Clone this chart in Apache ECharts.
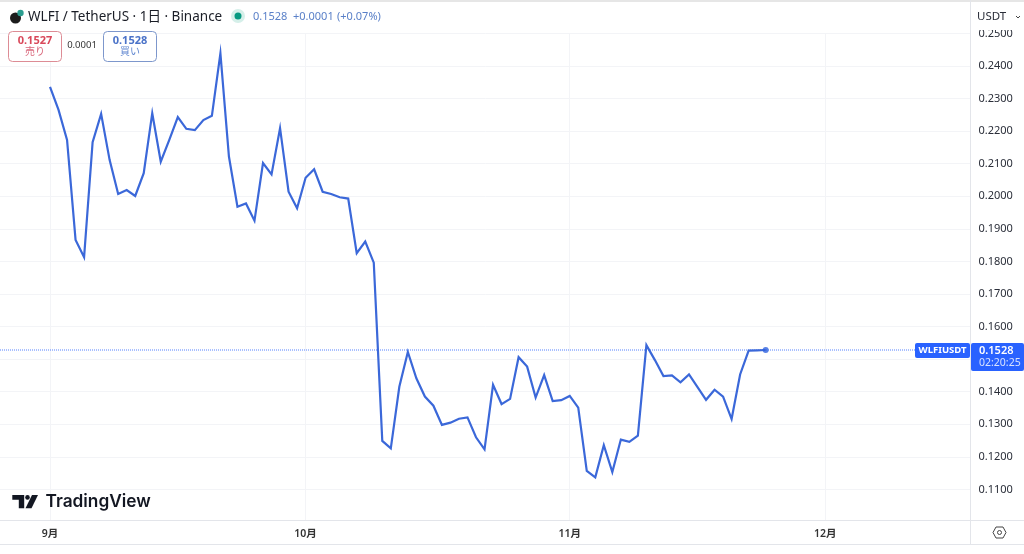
<!DOCTYPE html>
<html><head><meta charset="utf-8">
<style>html,body{margin:0;padding:0;background:#fff}#c{width:1024px;height:554px}</style>
<script src="https://cdn.jsdelivr.net/npm/echarts@6/dist/echarts.min.js"></script>
</head><body><div id="c"></div>
<script>
// day offset from 1 Sep, one close per day
const closes = [0.2336,0.2265,0.2173,0.1866,0.1813,0.2166,0.2253,0.2111,0.2007,0.2019,
0.2001,0.2071,0.2255,0.2106,0.2173,0.2243,0.2207,0.2203,0.2234,0.2247,
0.2439,0.2122,0.1968,0.1978,0.1925,0.2102,0.2067,0.2209,0.2014,0.1963,
0.2057,0.2083,0.2014,0.2007,0.1997,0.1993,0.1825,0.1861,0.1796,0.1249,
0.1226,0.1415,0.1522,0.1441,0.1385,0.1357,0.1298,0.1305,0.1317,0.1321,
0.1260,0.1223,0.1421,0.1362,0.1378,0.1506,0.1477,0.1382,0.1451,0.1371,
0.1374,0.1387,0.1351,0.1157,0.1137,0.1236,0.1153,0.1253,0.1246,0.1265,
0.1543,0.1497,0.1448,0.1450,0.1429,0.1453,0.1414,0.1375,0.1406,0.1385,
0.1316,0.1453,0.1526,0.1527,0.1528];
const monthDays = [0,30,61,91];
const monthLabels = ['9月','10月','11月','12月'];
const priceTicks = [0.11,0.12,0.13,0.14,0.15,0.16,0.17,0.18,0.19,0.20,0.21,0.22,0.23,0.24,0.25];
const lastPrice = 0.1528;
const xRange = [-5.87,108.04];
const yRange = [0.10045,0.25013];

const UI = '"Noto Sans","Noto Sans CJK JP",sans-serif';
const series = closes.map((v,i)=>[i,v]);
const lastIdx = closes.length-1;
const txt=(x,y,t,o)=>({type:'text',x,y,z:50,silent:true,style:Object.assign({text:t,fontFamily:UI,fontSize:11,fill:'#131722',verticalAlign:'middle',align:'left'},o||{})});
const rect=(x,y,w,h,o,r)=>({type:'rect',z:40,silent:true,shape:{x,y,width:w,height:h,r:r||0},style:o});

const chart = echarts.init(document.getElementById('c'),null,{renderer:'canvas'});
chart.setOption({
 animation:false,backgroundColor:'#fff',
 grid:{left:0,right:53.5,top:33,bottom:33.5},
 xAxis:{type:'value',min:xRange[0],max:xRange[1],
  axisLine:{show:false},
  axisTick:{show:false,customValues:monthDays},
  splitLine:{show:true,lineStyle:{color:'#f3f4f7',width:1}},
  axisLabel:{customValues:monthDays,margin:8,fontSize:10.5,fontWeight:600,color:'#333',fontFamily:UI,
   formatter:v=>monthLabels[monthDays.indexOf(Math.round(v))]||''}},
 yAxis:{type:'value',position:'right',min:yRange[0],max:yRange[1],
  axisLine:{show:false},
  axisTick:{show:false,customValues:priceTicks},
  splitLine:{show:true,lineStyle:{color:'#f3f4f7',width:1}},
  axisLabel:{customValues:priceTicks,margin:8,fontSize:11,color:'#2a2e39',fontFamily:UI,
   formatter:v=>v.toFixed(4)}},
 series:[
  {type:'line',data:[[xRange[0],lastPrice],[xRange[1],lastPrice]],showSymbol:false,silent:true,z:1,
   lineStyle:{color:'#2962ff',type:[1,1],width:1,opacity:.8}},
  {type:'line',data:series,showSymbol:false,smooth:false,z:3,
   lineStyle:{color:'#3b68d9',width:2.2,join:'miter'}},
  {type:'scatter',data:[series[lastIdx]],symbol:'circle',symbolSize:6,z:4,itemStyle:{color:'#2f62de'}}
 ],
 graphic:{elements:[
  rect(0,0,1024,2,{fill:'#e6e6e6'}),
  rect(970,0,1,544,{fill:'#e3e5ea'}),
  rect(0,520,1024,1,{fill:'#e3e5ea'}),
  rect(0,544,1024,1,{fill:'#e3e5ea'}),
  rect(973,6,51,24,{fill:'#fff'}),
  // header
  {type:'circle',z:50,silent:true,shape:{cx:15.5,cy:18,r:5.5},style:{fill:'#1c1c1c'}},
  {type:'circle',z:51,silent:true,shape:{cx:20.5,cy:13,r:3.2},style:{fill:'#2a9d8f'}},
  txt(28,17,'WLFI / TetherUS · 1日 · Binance',{fontSize:13.5,fill:'#1a1d26'}),
  {type:'circle',z:50,silent:true,shape:{cx:238,cy:16,r:7},style:{fill:'#d5efe9'}},
  {type:'circle',z:51,silent:true,shape:{cx:238,cy:16,r:3.5},style:{fill:'#089981'}},
  txt(253,16.5,'0.1528',{fill:'#5a80c8',fontSize:11}),
  txt(293,16.5,'+0.0001',{fill:'#5a80c8',fontSize:11}),
  txt(337,16.5,'(+0.07%)',{fill:'#5a80c8',fontSize:11}),
  // buy / sell
  rect(8.5,31.5,53,30,{fill:'#fff',stroke:'#dd8c95',lineWidth:1},4),
  txt(35,41,'0.1527',{align:'center',fontWeight:'bold',fontSize:11,fill:'#d9485a'}),
  txt(35,52.5,'売り',{align:'center',fontSize:10,fill:'#d9667a'}),
  txt(82,45.5,'0.0001',{align:'center',fontSize:9.5,fill:'#333'}),
  rect(103.5,31.5,53,30,{fill:'#fff',stroke:'#7d97cc',lineWidth:1},4),
  txt(130,41,'0.1528',{align:'center',fontWeight:'bold',fontSize:11,fill:'#4a72c8'}),
  txt(130,52.5,'買い',{align:'center',fontSize:10,fill:'#5f86d0'}),
  // currency selector
  txt(977,17,'USDT',{fontSize:11.5,fill:'#2a2e39'}),
  {type:'polyline',z:50,silent:true,shape:{points:[[1016,16],[1018,18],[1020,16]]},style:{stroke:'#444',lineWidth:1,fill:null}},
  // last price tags
  rect(915,343,55,15,{fill:'#2962ff'},2),
  txt(942.5,350.5,'WLFIUSDT',{align:'center',fontWeight:'bold',fontSize:9.5,fill:'#fff'}),
  rect(971,343,53,28,{fill:'#2962ff'},2),
  txt(979,350.5,'0.1528',{fontWeight:600,fontSize:11,fill:'#fff'}),
  txt(979,363.5,'02:20:25',{fontSize:10.5,fill:'#d7e2ff'}),
  // logo
  {type:'polygon',z:50,silent:true,shape:{points:[[12.3,495],[24.2,495],[24.2,508.3],[18.8,508.3],[18.8,499.8],[12.3,499.8]]},style:{fill:'#131722'}},
  {type:'circle',z:50,silent:true,shape:{cx:27.5,cy:497.4,r:2.3},style:{fill:'#131722'}},
  {type:'polygon',z:50,silent:true,shape:{points:[[32,495],[38,495],[31.5,508.3],[25.5,508.3]]},style:{fill:'#131722'}},
  txt(45.5,502,'TradingView',{fontFamily:'Inter,sans-serif',fontSize:17.3,fontWeight:600,fill:'#131722'}),
  // settings icon
  {type:'polygon',z:50,silent:true,shape:{points:[[993,532.5],[996,527],[1003,527],[1006,532.5],[1003,538],[996,538]]},style:{fill:null,stroke:'#444',lineWidth:1}},
  {type:'circle',z:50,silent:true,shape:{cx:999.5,cy:532.5,r:2},style:{fill:null,stroke:'#444',lineWidth:1}}
 ]}
});
</script></body></html>
